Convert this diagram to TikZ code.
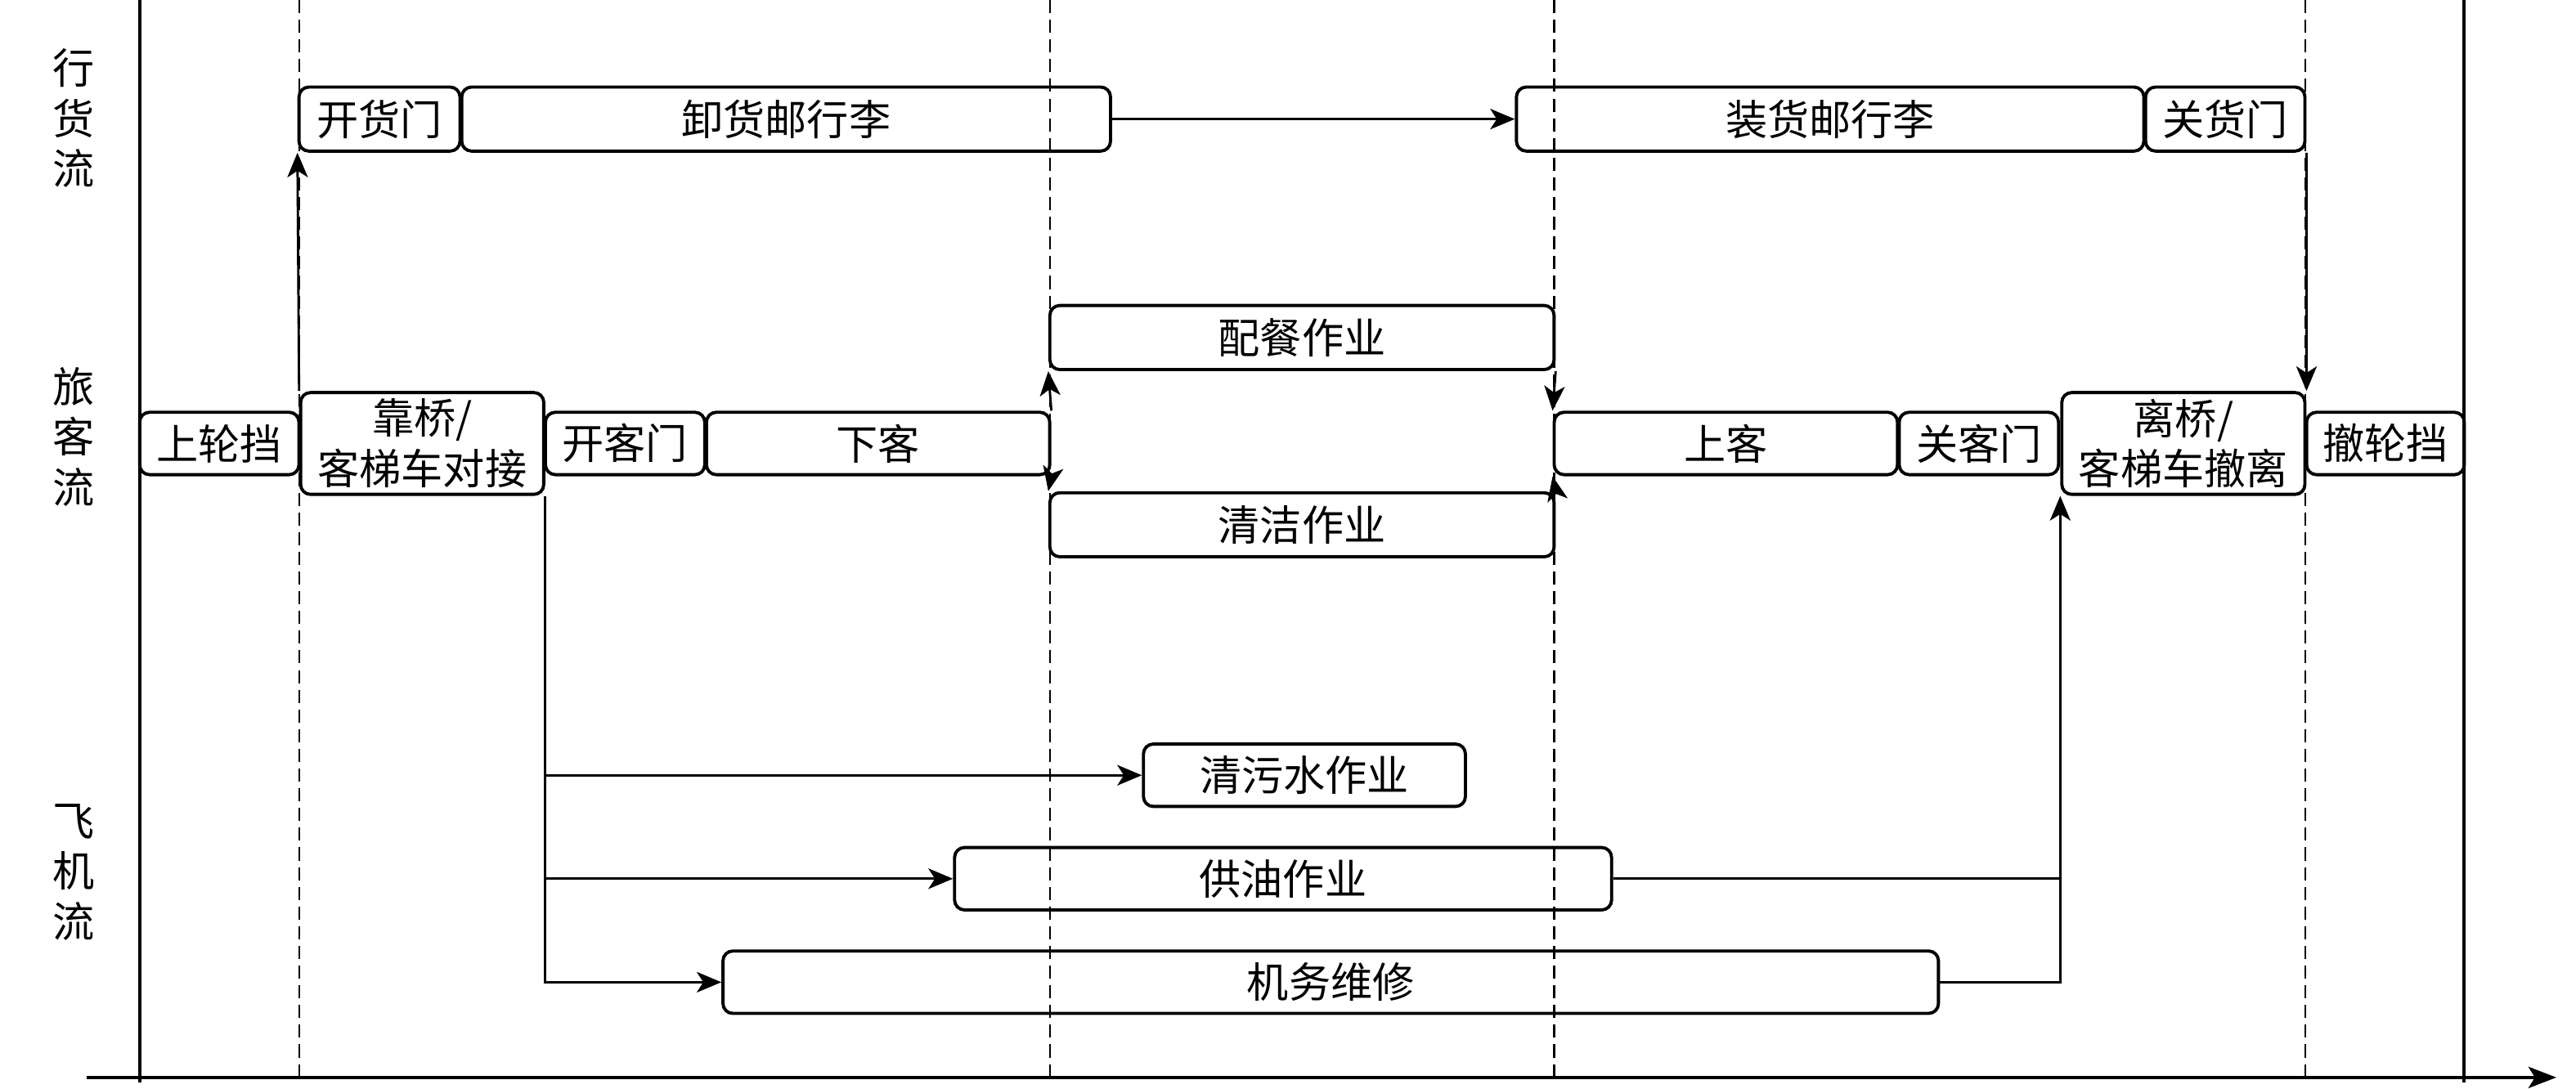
\documentclass[tikz,border=0pt]{standalone}
\usepackage{fontspec}
\newfontfamily\cjk{Noto Sans CJK SC}
\usetikzlibrary{arrows.meta}
\begin{document}
\begin{tikzpicture}[x=0.02cm,y=-0.02cm,
  box/.style={draw, rounded corners=0.12cm, line width=1.1pt, inner sep=0pt,
    minimum height=0.78cm, align=center, font=\cjk\fontsize{14.5}{17.5}\selectfont},
  tall/.style={minimum height=1.24cm},
  arr/.style={-{Stealth[length=0.3cm,width=0.25cm,inset=0.08cm]}, line width=0.8pt},
  conn/.style={line width=0.8pt},
  guide/.style={dash pattern=on 0.16cm off 0.08cm, line width=0.6pt},
  frame/.style={line width=1.1pt},
  lane/.style={font=\cjk\fontsize{14.5}{17.5}\selectfont, align=center, inner sep=0pt}]
\useasboundingbox (0,0) rectangle (1568,663);

% frame and guides
\draw[frame] (85,0) -- (85,659);
\draw[frame] (1500,0) -- (1500,659);
\draw[frame,-{Stealth[length=0.34cm,width=0.26cm,inset=0.08cm]}] (53,656) -- (1556,656);
\foreach \gx in {182,639,946,1403} \draw[guide] (\gx,0) -- (\gx,657);

% lane labels
\node[lane] (lane1) at (45,72) {行\\货\\流};
\node[lane] (lane2) at (45,266) {旅\\客\\流};
\node[lane] (lane3) at (45,531) {飞\\机\\流};

% cargo flow
\node[box, minimum width=1.96cm] (kaihuo) at (231,72.5) {开货门};
\node[box, minimum width=7.9cm] (xiehuo) at (478.5,72.5) {卸货邮行李};
\node[box, minimum width=7.64cm] (zhuanghuo) at (1114,72.5) {装货邮行李};
\node[box, minimum width=1.94cm] (guanhuo) at (1354.5,72.5) {关货门};

% passenger flow
\node[box, minimum width=6.14cm] (peican) at (792.5,205.5) {配餐作业};
\node[box, minimum width=6.14cm] (qingjie) at (792.5,319.5) {清洁作业};
\node[box, minimum width=1.94cm, minimum height=0.76cm] (shanglun) at (133.5,270) {上轮挡};
\node[box, tall, minimum width=2.96cm] (kaoqiao) at (257,270) {靠桥/\\客梯车对接};
\node[box, minimum width=1.94cm, minimum height=0.76cm] (kaike) at (380.5,270) {开客门};
\node[box, minimum width=4.18cm, minimum height=0.76cm] (xiake) at (534.5,270) {下客};
\node[box, minimum width=4.18cm, minimum height=0.76cm] (shangke) at (1050.5,270) {上客};
\node[box, minimum width=1.94cm, minimum height=0.76cm] (guanke) at (1204.5,270) {关客门};
\node[box, tall, minimum width=2.96cm] (liqiao) at (1329,270) {离桥/\\客梯车撤离};
\node[box, minimum width=1.92cm, minimum height=0.76cm] (chelun) at (1452,270) {撤轮挡};

% aircraft flow
\node[box, minimum width=3.92cm, minimum height=0.76cm] (qingwu) at (794,472) {清污水作业};
\node[box, minimum width=8.0cm, minimum height=0.76cm] (gongyou) at (781,535) {供油作业};
\node[box, minimum width=14.8cm, minimum height=0.76cm] (jiwu) at (810,598) {机务维修};

% connectors
\draw[arr] (kaoqiao.north west) -- (kaihuo.south west);
\draw[arr] (xiehuo.east) -- (zhuanghuo.west);
\draw[arr] (guanhuo.south east) -- (liqiao.north east);
\draw[arr] (xiake.north east) -- (peican.south west);
\draw[arr] (xiake.south east) -- (qingjie.north west);
\draw[arr] (peican.south east) -- (shangke.north west);
\draw[arr] (qingjie.north east) -- (shangke.south west);
\coordinate (trunk) at (kaoqiao.south east);
\draw[arr] (trunk) -- (trunk |- jiwu) -- (jiwu.west);
\draw[arr] (trunk |- qingwu) -- (qingwu.west);
\draw[arr] (trunk |- gongyou) -- (gongyou.west);
\draw[conn] (gongyou.east) -- (liqiao.south west |- gongyou);
\draw[arr] (jiwu.east) -- (liqiao.south west |- jiwu) -- (liqiao.south west);
\end{tikzpicture}
\end{document}
